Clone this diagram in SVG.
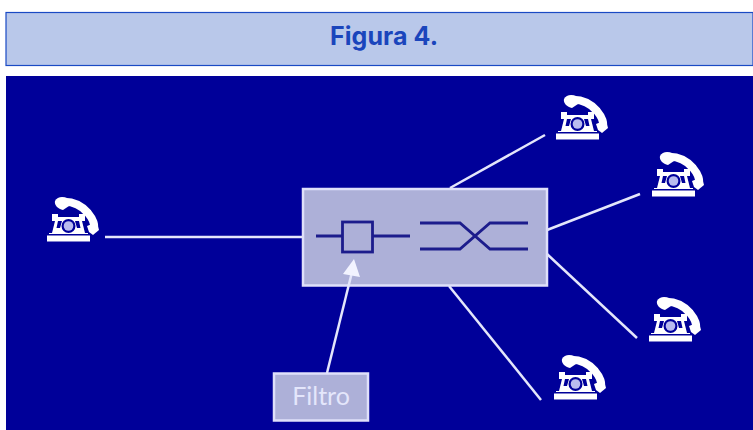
<svg xmlns="http://www.w3.org/2000/svg" width="753" height="430" viewBox="0 0 753 430">
<defs>
<style>
.link{stroke:#e4e6fb;stroke-width:2.5;fill:none}
.in{stroke:#1c1c8c;stroke-width:2.8;fill:none}
.box{fill:#adb0d8;stroke:#dfe0fa;stroke-width:2.5}
.w{fill:#fff}
</style>
<g id="ph">
<path d="M14 7C25 6 34 10 41 18C46 24 48 29 47 34" fill="none" stroke="#fff" stroke-width="8"/>
<path class="w" d="M8 6C10 2 15 1 20 3L22 11L16 15C11 14 7 10 8 6Z"/>
<path class="w" d="M40 31L50 27L52 35L46 40L42 37Z"/>
<path class="w" d="M5 19H11V22H32V19H38V26H35L38 38H41V39H2V38H5L8 26H5Z"/>
<rect class="w" x="0" y="40.500" width="43" height="6"/>
<path d="M11 26H15L13 33H9.500ZM32 26H28L30 33H33.500Z" fill="#00009a"/>
<circle cx="21.500" cy="31" r="7" fill="#00009a"/>
<circle cx="21.500" cy="31" r="4.800" fill="#b9bcef"/>
</g>
</defs>
<rect width="753" height="430" fill="#fff"/>
<g id="title">
<rect x="6" y="12.500" width="747" height="53" fill="#b9c8ea" stroke="#1a4ac4" stroke-width="1.200"/>
<text x="384" y="45" text-anchor="middle" font-family="Inter,'Liberation Sans',sans-serif" font-size="25" font-weight="700" textLength="108" fill="#1a45bc">Figura 4.</text>
</g>
<rect id="background" x="6" y="76" width="747" height="354" fill="#000099"/>
<g id="connectors">
<path class="link" d="M105 237H303"/>
<path class="link" d="M450 188L545 135"/>
<path class="link" d="M547 230L640 194"/>
<path class="link" d="M547 254L637 338"/>
<path class="link" d="M449 286L541 400"/>
</g>
<g id="switch">
<rect class="box" x="303" y="189" width="244" height="96.500"/>
<path class="in" d="M316 236H343M373 236H410"/>
<rect class="in" x="342.500" y="222" width="30" height="30"/>
<path class="in" d="M420 223H460L490 249H528M420 249H460L490 223H528"/>
</g>
<g id="filtro">
<rect class="box" x="274" y="373.500" width="94" height="47"/>
<text x="321" y="405" text-anchor="middle" font-family="Lato,'Liberation Sans',sans-serif" font-size="25" fill="#e4e6fb">Filtro</text>
</g>
<g id="filtro-arrow">
<path class="link" d="M327 373L352 272"/>
<path d="M354 259L343 274L360 277Z" fill="#f2f3ff"/>
</g>
<use id="phone-left" href="#ph" x="47" y="195"/>
<use id="phone-1" href="#ph" x="556" y="93"/>
<use id="phone-2" href="#ph" x="652" y="150"/>
<use id="phone-3" href="#ph" x="649" y="295"/>
<use id="phone-4" href="#ph" x="554" y="353"/>
</svg>
